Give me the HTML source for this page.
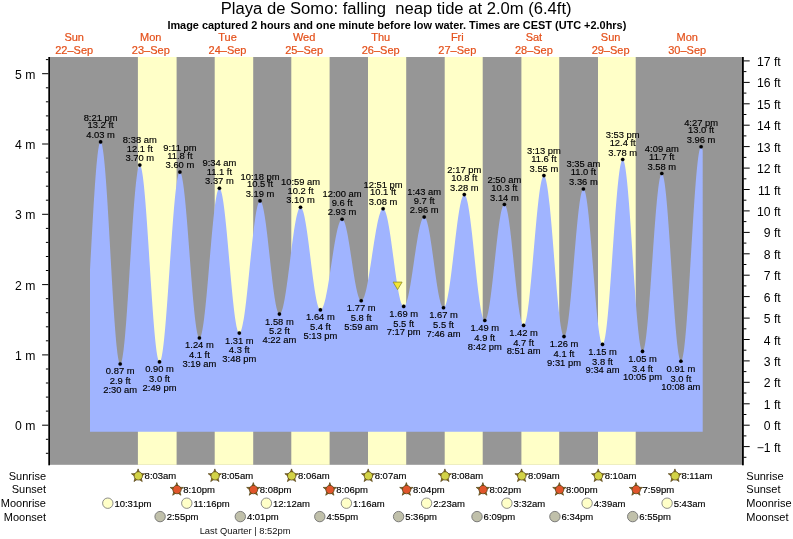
<!DOCTYPE html>
<html><head><meta charset="utf-8"><title>Playa de Somo tide chart</title>
<style>html,body{margin:0;padding:0;background:#fff}</style></head>
<body>
<svg width="793" height="539" viewBox="0 0 793 539" style="display:block;font-family:'Liberation Sans',Arial,sans-serif">
<rect width="793" height="539" fill="#fff"/>
<rect x="50" y="57" width="692" height="407.8" fill="#969696"/>
<rect x="137.9" y="57" width="38.7" height="407.8" fill="#ffffc8"/>
<rect x="214.7" y="57" width="38.5" height="407.8" fill="#ffffc8"/>
<rect x="291.3" y="57" width="38.3" height="407.8" fill="#ffffc8"/>
<rect x="368.0" y="57" width="38.2" height="407.8" fill="#ffffc8"/>
<rect x="444.7" y="57" width="38.0" height="407.8" fill="#ffffc8"/>
<rect x="521.4" y="57" width="37.8" height="407.8" fill="#ffffc8"/>
<rect x="598.0" y="57" width="37.7" height="407.8" fill="#ffffc8"/>
<path d="M90.0,431.7L90.0,269.5L90.5,260.3L91.0,251.2L91.5,242.1L92.0,233.1L92.5,224.2L93.0,215.5L93.5,207.1L94.0,199.1L94.5,191.4L95.0,184.1L95.5,177.2L96.0,170.9L96.5,165.1L97.0,159.9L97.5,155.3L98.0,151.3L98.5,148.0L99.0,145.4L99.5,143.5L100.0,142.4L100.5,141.9L101.0,142.2L101.5,143.1L102.0,144.8L102.5,147.2L103.0,150.2L103.5,153.9L104.0,158.3L104.5,163.2L105.0,168.7L105.5,174.8L106.0,181.3L106.5,188.3L107.0,195.8L107.5,203.6L108.0,211.7L108.5,220.0L109.0,228.6L109.5,237.4L110.0,246.2L110.5,255.1L111.0,264.0L111.5,272.8L112.0,281.4L112.5,289.9L113.0,298.2L113.5,306.2L114.0,313.8L114.5,321.0L115.0,327.8L115.5,334.1L116.0,339.9L116.5,345.2L117.0,349.8L117.5,353.9L118.0,357.3L118.5,360.0L119.0,362.0L119.5,363.4L120.0,364.0L120.5,363.9L121.0,363.2L121.5,361.9L122.0,359.9L122.5,357.3L123.0,354.1L123.5,350.4L124.0,346.1L124.5,341.2L125.0,335.9L125.5,330.1L126.0,323.9L126.5,317.3L127.0,310.4L127.5,303.1L128.0,295.7L128.5,288.0L129.0,280.2L129.5,272.2L130.0,264.3L130.5,256.3L131.0,248.4L131.5,240.6L132.0,232.9L132.5,225.4L133.0,218.2L133.5,211.3L134.0,204.8L134.5,198.6L135.0,192.8L135.5,187.5L136.0,182.7L136.5,178.5L137.0,174.8L137.5,171.6L138.0,169.1L138.5,167.1L139.0,165.8L139.5,165.2L140.0,165.2L140.5,165.8L141.0,167.0L141.5,168.8L142.0,171.2L142.5,174.2L143.0,177.8L143.5,181.9L144.0,186.6L144.5,191.7L145.0,197.3L145.5,203.3L146.0,209.7L146.5,216.4L147.0,223.4L147.5,230.7L148.0,238.2L148.5,245.8L149.0,253.6L149.5,261.4L150.0,269.2L150.5,277.0L151.0,284.7L151.5,292.3L152.0,299.7L152.5,306.8L153.0,313.7L153.5,320.3L154.0,326.5L154.5,332.3L155.0,337.7L155.5,342.6L156.0,347.0L156.5,350.9L157.0,354.2L157.5,357.0L158.0,359.1L158.5,360.7L159.0,361.6L159.5,361.9L160.0,361.7L160.5,360.8L161.0,359.4L161.5,357.4L162.0,354.9L162.5,351.9L163.0,348.4L163.5,344.4L164.0,339.9L164.5,335.0L165.0,329.7L165.5,324.0L166.0,317.9L166.5,311.6L167.0,305.0L167.5,298.2L168.0,291.2L168.5,284.0L169.0,276.7L169.5,269.4L170.0,262.1L170.5,254.8L171.0,247.5L171.5,240.4L172.0,233.5L172.5,226.7L173.0,220.2L173.5,214.0L174.0,208.1L174.5,202.5L175.0,197.3L175.5,192.5L176.0,188.2L176.5,184.4L177.0,181.0L177.5,178.2L178.0,175.9L178.5,174.1L179.0,172.9L179.5,172.2L180.0,172.2L180.5,172.6L181.0,173.6L181.5,175.1L182.0,177.1L182.5,179.7L183.0,182.7L183.5,186.2L184.0,190.1L184.5,194.4L185.0,199.1L185.5,204.2L186.0,209.7L186.5,215.4L187.0,221.3L187.5,227.5L188.0,233.9L188.5,240.4L189.0,247.0L189.5,253.6L190.0,260.3L190.5,266.9L191.0,273.4L191.5,279.8L192.0,286.1L192.5,292.2L193.0,298.0L193.5,303.6L194.0,308.8L194.5,313.7L195.0,318.2L195.5,322.3L196.0,326.0L196.5,329.2L197.0,332.0L197.5,334.2L198.0,335.9L198.5,337.2L199.0,337.9L199.5,338.0L200.0,337.7L200.5,336.9L201.0,335.7L201.5,334.0L202.0,331.8L202.5,329.3L203.0,326.3L203.5,322.9L204.0,319.2L204.5,315.1L205.0,310.7L205.5,306.0L206.0,301.1L206.5,295.9L207.0,290.5L207.5,284.9L208.0,279.2L208.5,273.4L209.0,267.5L209.5,261.6L210.0,255.8L210.5,249.9L211.0,244.2L211.5,238.5L212.0,233.0L212.5,227.7L213.0,222.7L213.5,217.8L214.0,213.3L214.5,209.0L215.0,205.1L215.5,201.6L216.0,198.4L216.5,195.7L217.0,193.3L217.5,191.4L218.0,190.0L218.5,189.0L219.0,188.4L219.5,188.3L220.0,188.7L220.5,189.5L221.0,190.7L221.5,192.4L222.0,194.6L222.5,197.1L223.0,200.0L223.5,203.3L224.0,207.0L224.5,211.0L225.0,215.3L225.5,219.9L226.0,224.7L226.5,229.8L227.0,235.1L227.5,240.5L228.0,246.0L228.5,251.7L229.0,257.4L229.5,263.1L230.0,268.8L230.5,274.4L231.0,280.0L231.5,285.4L232.0,290.7L232.5,295.8L233.0,300.7L233.5,305.3L234.0,309.7L234.5,313.8L235.0,317.5L235.5,320.8L236.0,323.8L236.5,326.4L237.0,328.6L237.5,330.4L238.0,331.7L238.5,332.6L239.0,333.1L239.5,333.1L240.0,332.7L240.5,331.9L241.0,330.8L241.5,329.3L242.0,327.4L242.5,325.2L243.0,322.7L243.6,319.8L244.1,316.7L244.6,313.2L245.1,309.5L245.6,305.6L246.1,301.4L246.6,297.0L247.1,292.5L247.6,287.8L248.1,283.0L248.6,278.1L249.1,273.1L249.6,268.1L250.1,263.1L250.6,258.2L251.1,253.2L251.6,248.4L252.1,243.6L252.6,239.0L253.1,234.6L253.6,230.3L254.1,226.3L254.6,222.5L255.1,218.9L255.6,215.6L256.1,212.6L256.6,209.9L257.1,207.6L257.6,205.6L258.1,203.9L258.6,202.6L259.1,201.7L259.6,201.1L260.1,200.9L260.6,201.1L261.1,201.7L261.6,202.6L262.1,203.9L262.6,205.6L263.1,207.6L263.6,209.9L264.1,212.5L264.6,215.5L265.1,218.7L265.6,222.1L266.1,225.8L266.6,229.7L267.1,233.8L267.6,238.1L268.1,242.4L268.6,246.9L269.1,251.4L269.6,256.0L270.1,260.6L270.6,265.2L271.1,269.7L271.6,274.1L272.1,278.5L272.6,282.7L273.1,286.7L273.6,290.5L274.1,294.1L274.6,297.5L275.1,300.6L275.6,303.5L276.1,306.0L276.6,308.2L277.1,310.1L277.6,311.6L278.1,312.8L278.6,313.6L279.1,314.0L279.6,314.1L280.1,313.9L280.6,313.3L281.1,312.5L281.6,311.4L282.1,310.0L282.6,308.4L283.1,306.4L283.6,304.2L284.1,301.8L284.6,299.2L285.1,296.3L285.6,293.3L286.1,290.0L286.6,286.6L287.1,283.1L287.6,279.4L288.1,275.6L288.6,271.8L289.1,267.9L289.6,263.9L290.1,259.9L290.6,256.0L291.1,252.0L291.6,248.1L292.1,244.3L292.6,240.6L293.1,237.0L293.6,233.5L294.1,230.1L294.6,227.0L295.1,224.0L295.6,221.2L296.1,218.6L296.6,216.3L297.1,214.2L297.6,212.4L298.1,210.8L298.6,209.5L299.1,208.5L299.6,207.8L300.1,207.4L300.6,207.3L301.1,207.5L301.6,208.0L302.1,208.8L302.6,209.9L303.1,211.3L303.6,213.1L304.1,215.1L304.6,217.3L305.1,219.9L305.6,222.7L306.1,225.7L306.6,228.9L307.1,232.3L307.6,235.8L308.1,239.5L308.6,243.3L309.1,247.2L309.6,251.2L310.1,255.3L310.6,259.3L311.1,263.4L311.6,267.4L312.1,271.3L312.6,275.2L313.1,279.0L313.6,282.6L314.1,286.1L314.6,289.5L315.1,292.6L315.6,295.5L316.1,298.2L316.6,300.7L317.1,302.9L317.6,304.8L318.1,306.4L318.6,307.7L319.1,308.7L319.6,309.4L320.1,309.8L320.6,309.9L321.1,309.7L321.6,309.3L322.1,308.6L322.6,307.7L323.1,306.6L323.6,305.3L324.1,303.7L324.6,302.0L325.1,300.0L325.6,297.9L326.1,295.5L326.6,293.1L327.1,290.4L327.6,287.7L328.1,284.8L328.6,281.8L329.1,278.7L329.6,275.5L330.1,272.3L330.6,269.0L331.1,265.8L331.6,262.5L332.1,259.2L332.6,255.9L333.1,252.7L333.6,249.6L334.1,246.5L334.6,243.6L335.1,240.7L335.6,238.0L336.1,235.4L336.6,232.9L337.1,230.7L337.6,228.6L338.1,226.7L338.6,225.0L339.1,223.5L339.6,222.2L340.1,221.1L340.6,220.3L341.1,219.7L341.6,219.3L342.1,219.2L342.6,219.4L343.1,219.8L343.6,220.4L344.1,221.4L344.6,222.6L345.1,224.1L345.6,225.8L346.1,227.7L346.6,229.9L347.1,232.2L347.6,234.8L348.1,237.5L348.6,240.4L349.1,243.4L349.6,246.5L350.1,249.7L350.6,253.0L351.1,256.3L351.6,259.6L352.1,263.0L352.6,266.3L353.1,269.6L353.6,272.8L354.1,276.0L354.6,279.0L355.1,281.9L355.6,284.6L356.1,287.2L356.6,289.6L357.1,291.8L357.6,293.8L358.1,295.6L358.6,297.1L359.1,298.4L359.6,299.4L360.1,300.1L360.6,300.6L361.1,300.8L361.6,300.7L362.1,300.4L362.6,299.8L363.1,299.1L363.6,298.1L364.1,296.9L364.6,295.4L365.1,293.8L365.6,291.9L366.1,289.9L366.6,287.7L367.1,285.3L367.6,282.7L368.1,280.0L368.6,277.2L369.1,274.3L369.6,271.3L370.1,268.1L370.6,264.9L371.1,261.7L371.6,258.4L372.1,255.1L372.6,251.8L373.1,248.5L373.6,245.3L374.1,242.1L374.6,239.0L375.1,235.9L375.6,232.9L376.1,230.1L376.6,227.4L377.1,224.8L377.6,222.3L378.1,220.1L378.6,218.0L379.1,216.1L379.6,214.4L380.1,212.9L380.6,211.6L381.1,210.6L381.6,209.8L382.1,209.2L382.6,208.8L383.1,208.7L383.6,208.8L384.1,209.2L384.6,209.9L385.1,210.9L385.6,212.2L386.1,213.7L386.6,215.4L387.1,217.5L387.6,219.7L388.1,222.2L388.6,224.9L389.1,227.7L389.6,230.8L390.1,234.0L390.6,237.3L391.1,240.8L391.6,244.4L392.1,248.0L392.6,251.7L393.1,255.4L393.6,259.1L394.1,262.9L394.6,266.6L395.1,270.2L395.6,273.8L396.1,277.3L396.6,280.6L397.1,283.8L397.6,286.9L398.1,289.8L398.6,292.5L399.1,295.0L399.6,297.3L400.1,299.4L400.6,301.2L401.1,302.7L401.6,304.0L402.1,305.0L402.6,305.8L403.1,306.2L403.6,306.4L404.1,306.3L404.6,305.9L405.1,305.3L405.6,304.4L406.1,303.3L406.6,301.9L407.1,300.3L407.6,298.5L408.1,296.4L408.6,294.2L409.1,291.8L409.6,289.1L410.1,286.4L410.6,283.5L411.1,280.4L411.6,277.3L412.1,274.0L412.6,270.7L413.1,267.3L413.6,263.9L414.1,260.5L414.6,257.1L415.1,253.7L415.6,250.4L416.1,247.1L416.6,243.9L417.1,240.9L417.6,237.9L418.1,235.1L418.6,232.4L419.1,229.9L419.6,227.6L420.1,225.5L420.6,223.7L421.1,222.0L421.6,220.6L422.1,219.4L422.6,218.4L423.1,217.7L423.6,217.3L424.1,217.1L424.6,217.2L425.1,217.6L425.6,218.3L426.1,219.3L426.6,220.6L427.1,222.1L427.6,223.9L428.1,226.0L428.6,228.3L429.1,230.9L429.6,233.6L430.1,236.5L430.6,239.7L431.1,242.9L431.6,246.3L432.1,249.8L432.6,253.4L433.1,257.0L433.6,260.7L434.1,264.4L434.6,268.1L435.1,271.7L435.6,275.3L436.1,278.8L436.6,282.2L437.1,285.4L437.6,288.5L438.1,291.4L438.6,294.2L439.1,296.7L439.6,299.0L440.1,301.1L440.6,302.9L441.1,304.4L441.6,305.7L442.1,306.6L442.6,307.3L443.1,307.7L443.6,307.8L444.1,307.6L444.6,307.0L445.1,306.1L445.6,305.0L446.1,303.5L446.6,301.7L447.1,299.6L447.6,297.3L448.1,294.6L448.6,291.8L449.1,288.7L449.6,285.4L450.1,281.9L450.6,278.2L451.1,274.4L451.6,270.4L452.1,266.3L452.6,262.2L453.1,258.0L453.6,253.7L454.1,249.4L454.6,245.2L455.1,240.9L455.6,236.8L456.1,232.7L456.6,228.7L457.1,224.8L457.6,221.1L458.1,217.6L458.6,214.3L459.1,211.1L459.6,208.2L460.1,205.6L460.6,203.2L461.1,201.1L461.6,199.2L462.1,197.7L462.6,196.5L463.1,195.5L463.6,194.9L464.1,194.6L464.6,194.7L465.1,195.1L465.6,195.9L466.1,197.0L466.6,198.5L467.1,200.4L467.6,202.6L468.1,205.1L468.6,207.9L469.1,211.0L469.6,214.4L470.1,218.0L470.6,221.9L471.1,225.9L471.6,230.2L472.1,234.6L472.6,239.2L473.1,243.8L473.6,248.6L474.1,253.4L474.6,258.2L475.1,263.0L475.6,267.8L476.1,272.5L476.6,277.2L477.1,281.7L477.6,286.1L478.1,290.3L478.6,294.3L479.1,298.1L479.6,301.7L480.1,305.0L480.6,308.0L481.1,310.7L481.6,313.2L482.1,315.2L482.6,317.0L483.1,318.4L483.6,319.4L484.1,320.1L484.6,320.4L485.1,320.4L485.6,319.9L486.1,319.1L486.6,318.0L487.1,316.4L487.6,314.6L488.1,312.4L488.6,309.8L489.1,307.0L489.6,303.9L490.1,300.5L490.6,296.9L491.1,293.0L491.6,289.0L492.1,284.7L492.6,280.4L493.1,275.9L493.6,271.3L494.1,266.7L494.6,262.1L495.1,257.4L495.6,252.8L496.1,248.2L496.6,243.8L497.1,239.4L497.6,235.2L498.1,231.2L498.6,227.4L499.1,223.8L499.6,220.5L500.1,217.4L500.6,214.6L501.1,212.1L501.6,210.0L502.1,208.2L502.6,206.7L503.1,205.6L503.6,204.9L504.1,204.5L504.6,204.5L505.1,204.9L505.6,205.7L506.1,206.9L506.6,208.5L507.1,210.5L507.6,212.8L508.1,215.5L508.6,218.5L509.1,221.8L509.6,225.5L510.1,229.3L510.6,233.4L511.1,237.8L511.6,242.3L512.1,246.9L512.6,251.7L513.1,256.6L513.6,261.5L514.1,266.4L514.6,271.4L515.1,276.3L515.6,281.1L516.1,285.8L516.6,290.3L517.1,294.7L517.6,298.9L518.1,302.9L518.6,306.6L519.1,310.1L519.6,313.2L520.1,316.0L520.6,318.5L521.1,320.6L521.6,322.3L522.1,323.7L522.6,324.6L523.1,325.2L523.6,325.4L524.1,325.1L524.6,324.4L525.1,323.2L525.6,321.6L526.1,319.6L526.6,317.2L527.1,314.4L527.6,311.2L528.1,307.6L528.6,303.7L529.1,299.4L529.6,294.9L530.1,290.1L530.6,285.1L531.1,279.9L531.6,274.5L532.1,268.9L532.6,263.3L533.1,257.5L533.6,251.7L534.1,246.0L534.6,240.2L535.1,234.5L535.6,228.9L536.1,223.4L536.6,218.1L537.1,213.0L537.6,208.1L538.1,203.5L538.6,199.1L539.1,195.1L539.6,191.3L540.1,188.0L540.6,185.0L541.1,182.4L541.6,180.2L542.1,178.4L542.6,177.1L543.1,176.2L543.6,175.7L544.1,175.7L544.6,176.2L545.1,177.1L545.6,178.6L546.1,180.5L546.6,182.9L547.1,185.7L547.6,188.9L548.1,192.6L548.6,196.7L549.1,201.1L549.7,205.8L550.2,210.9L550.7,216.2L551.2,221.8L551.7,227.6L552.2,233.5L552.7,239.6L553.2,245.8L553.7,252.1L554.2,258.4L554.7,264.7L555.2,270.9L555.7,277.0L556.2,283.0L556.7,288.9L557.2,294.5L557.7,299.9L558.2,305.0L558.7,309.9L559.2,314.4L559.7,318.5L560.2,322.3L560.7,325.7L561.2,328.6L561.7,331.1L562.2,333.2L562.7,334.8L563.2,335.9L563.7,336.5L564.2,336.6L564.7,336.2L565.2,335.4L565.7,334.1L566.2,332.3L566.7,330.0L567.2,327.3L567.7,324.2L568.2,320.7L568.7,316.8L569.2,312.5L569.7,307.9L570.2,303.1L570.7,297.9L571.2,292.5L571.7,287.0L572.2,281.2L572.7,275.4L573.2,269.4L573.7,263.5L574.2,257.5L574.7,251.5L575.2,245.7L575.7,239.9L576.2,234.3L576.7,228.9L577.2,223.7L577.7,218.7L578.2,214.1L578.7,209.7L579.2,205.8L579.7,202.1L580.2,198.9L580.7,196.1L581.2,193.8L581.7,191.9L582.2,190.5L582.7,189.5L583.2,189.0L583.7,189.1L584.2,189.6L584.7,190.7L585.2,192.2L585.7,194.3L586.2,196.9L586.7,199.9L587.2,203.4L587.7,207.3L588.2,211.7L588.7,216.3L589.2,221.4L589.7,226.7L590.2,232.3L590.7,238.2L591.2,244.2L591.7,250.4L592.2,256.7L592.7,263.0L593.2,269.4L593.7,275.8L594.2,282.1L594.7,288.3L595.2,294.4L595.7,300.2L596.2,305.9L596.7,311.3L597.2,316.3L597.7,321.1L598.2,325.4L598.7,329.4L599.2,333.0L599.7,336.1L600.2,338.7L600.7,340.9L601.2,342.5L601.7,343.6L602.2,344.2L602.7,344.3L603.2,343.9L603.7,342.8L604.2,341.2L604.7,339.1L605.2,336.5L605.7,333.3L606.2,329.7L606.7,325.5L607.2,321.0L607.7,316.0L608.2,310.6L608.7,304.8L609.2,298.8L609.7,292.4L610.2,285.8L610.7,279.0L611.2,272.1L611.7,265.0L612.2,257.8L612.7,250.6L613.2,243.5L613.7,236.3L614.2,229.3L614.7,222.4L615.2,215.6L615.7,209.1L616.2,202.9L616.7,196.9L617.2,191.3L617.7,186.1L618.2,181.2L618.7,176.8L619.2,172.8L619.7,169.3L620.2,166.3L620.7,163.9L621.2,162.0L621.7,160.6L622.2,159.7L622.7,159.5L623.2,159.8L623.7,160.7L624.2,162.2L624.7,164.3L625.2,167.0L625.7,170.2L626.2,174.0L626.7,178.2L627.2,183.0L627.7,188.2L628.2,193.9L628.7,199.9L629.2,206.3L629.7,213.0L630.2,219.9L630.7,227.1L631.2,234.5L631.7,242.0L632.2,249.6L632.7,257.2L633.2,264.8L633.7,272.3L634.2,279.7L634.7,287.0L635.2,294.1L635.7,301.0L636.2,307.5L636.7,313.7L637.2,319.6L637.7,325.1L638.2,330.1L638.7,334.6L639.2,338.7L639.7,342.2L640.2,345.2L640.7,347.6L641.2,349.4L641.7,350.7L642.2,351.3L642.7,351.3L643.2,350.8L643.7,349.6L644.2,347.9L644.7,345.7L645.2,342.9L645.7,339.5L646.2,335.7L646.7,331.3L647.2,326.6L647.7,321.3L648.2,315.8L648.7,309.8L649.2,303.6L649.7,297.0L650.2,290.3L650.7,283.3L651.2,276.3L651.7,269.1L652.2,261.9L652.7,254.7L653.2,247.5L653.7,240.5L654.2,233.6L654.7,226.8L655.2,220.4L655.7,214.1L656.2,208.3L656.7,202.7L657.2,197.6L657.7,192.9L658.2,188.6L658.7,184.8L659.2,181.6L659.7,178.8L660.2,176.7L660.7,175.0L661.2,174.0L661.7,173.5L662.2,173.7L662.7,174.5L663.2,175.9L663.7,177.9L664.2,180.5L664.7,183.7L665.2,187.5L665.7,191.8L666.2,196.6L666.7,201.9L667.2,207.7L667.7,213.8L668.2,220.4L668.7,227.2L669.2,234.3L669.7,241.6L670.2,249.1L670.7,256.7L671.2,264.4L671.7,272.2L672.2,279.8L672.7,287.4L673.2,294.9L673.7,302.2L674.2,309.2L674.7,316.0L675.2,322.4L675.7,328.5L676.2,334.1L676.7,339.3L677.2,344.0L677.7,348.2L678.2,351.9L678.7,354.9L679.2,357.4L679.7,359.3L680.2,360.5L680.7,361.2L681.2,361.1L681.7,360.5L682.2,359.2L682.7,357.2L683.2,354.6L683.7,351.4L684.2,347.7L684.7,343.3L685.2,338.4L685.7,333.0L686.2,327.2L686.7,320.8L687.2,314.1L687.7,307.0L688.2,299.6L688.7,291.9L689.2,284.0L689.7,275.9L690.2,267.6L690.7,259.3L691.2,251.0L691.7,242.6L692.2,234.4L692.7,226.2L693.2,218.3L693.7,210.5L694.2,203.0L694.7,195.8L695.2,189.0L695.7,182.6L696.2,176.6L696.7,171.0L697.2,166.0L697.7,161.5L698.2,157.6L698.7,154.2L699.2,151.5L699.7,149.3L700.2,147.9L700.7,147.0L701.2,146.8L701.7,147.3L702.2,148.5L702.7,150.3L702.7,431.7Z" fill="#a0b4ff"/>
<rect x="48.3" y="57" width="1.7" height="408.3" fill="#000"/>
<rect x="742" y="57" width="1.8" height="408.3" fill="#000"/>
<g stroke="#000" stroke-width="1"><line x1="45.9" x2="48.4" y1="453.3" y2="453.3"/><line x1="45.9" x2="48.4" y1="439.3" y2="439.3"/><line x1="42.1" x2="48.4" y1="425.2" y2="425.2"/><line x1="45.9" x2="48.4" y1="411.1" y2="411.1"/><line x1="45.9" x2="48.4" y1="397.1" y2="397.1"/><line x1="45.9" x2="48.4" y1="383.0" y2="383.0"/><line x1="45.9" x2="48.4" y1="369.0" y2="369.0"/><line x1="42.1" x2="48.4" y1="354.9" y2="354.9"/><line x1="45.9" x2="48.4" y1="340.8" y2="340.8"/><line x1="45.9" x2="48.4" y1="326.8" y2="326.8"/><line x1="45.9" x2="48.4" y1="312.7" y2="312.7"/><line x1="45.9" x2="48.4" y1="298.7" y2="298.7"/><line x1="42.1" x2="48.4" y1="284.6" y2="284.6"/><line x1="45.9" x2="48.4" y1="270.5" y2="270.5"/><line x1="45.9" x2="48.4" y1="256.5" y2="256.5"/><line x1="45.9" x2="48.4" y1="242.4" y2="242.4"/><line x1="45.9" x2="48.4" y1="228.4" y2="228.4"/><line x1="42.1" x2="48.4" y1="214.3" y2="214.3"/><line x1="45.9" x2="48.4" y1="200.2" y2="200.2"/><line x1="45.9" x2="48.4" y1="186.2" y2="186.2"/><line x1="45.9" x2="48.4" y1="172.1" y2="172.1"/><line x1="45.9" x2="48.4" y1="158.1" y2="158.1"/><line x1="42.1" x2="48.4" y1="144.0" y2="144.0"/><line x1="45.9" x2="48.4" y1="129.9" y2="129.9"/><line x1="45.9" x2="48.4" y1="115.9" y2="115.9"/><line x1="45.9" x2="48.4" y1="101.8" y2="101.8"/><line x1="45.9" x2="48.4" y1="87.8" y2="87.8"/><line x1="42.1" x2="48.4" y1="73.7" y2="73.7"/><line x1="45.9" x2="48.4" y1="59.6" y2="59.6"/></g>
<text x="35.4" y="430.1" font-size="12.2" text-anchor="end">0 m</text>
<text x="35.4" y="359.8" font-size="12.2" text-anchor="end">1 m</text>
<text x="35.4" y="289.5" font-size="12.2" text-anchor="end">2 m</text>
<text x="35.4" y="219.2" font-size="12.2" text-anchor="end">3 m</text>
<text x="35.4" y="148.9" font-size="12.2" text-anchor="end">4 m</text>
<text x="35.4" y="78.6" font-size="12.2" text-anchor="end">5 m</text>
<g stroke="#000" stroke-width="1"><line x1="743.5" x2="746.4" y1="457.3" y2="457.3"/><line x1="743.5" x2="749.7" y1="446.6" y2="446.6"/><line x1="743.5" x2="746.4" y1="435.9" y2="435.9"/><line x1="743.5" x2="749.7" y1="425.2" y2="425.2"/><line x1="743.5" x2="746.4" y1="414.5" y2="414.5"/><line x1="743.5" x2="749.7" y1="403.8" y2="403.8"/><line x1="743.5" x2="746.4" y1="393.1" y2="393.1"/><line x1="743.5" x2="749.7" y1="382.3" y2="382.3"/><line x1="743.5" x2="746.4" y1="371.6" y2="371.6"/><line x1="743.5" x2="749.7" y1="360.9" y2="360.9"/><line x1="743.5" x2="746.4" y1="350.2" y2="350.2"/><line x1="743.5" x2="749.7" y1="339.5" y2="339.5"/><line x1="743.5" x2="746.4" y1="328.8" y2="328.8"/><line x1="743.5" x2="749.7" y1="318.1" y2="318.1"/><line x1="743.5" x2="746.4" y1="307.3" y2="307.3"/><line x1="743.5" x2="749.7" y1="296.6" y2="296.6"/><line x1="743.5" x2="746.4" y1="285.9" y2="285.9"/><line x1="743.5" x2="749.7" y1="275.2" y2="275.2"/><line x1="743.5" x2="746.4" y1="264.5" y2="264.5"/><line x1="743.5" x2="749.7" y1="253.8" y2="253.8"/><line x1="743.5" x2="746.4" y1="243.1" y2="243.1"/><line x1="743.5" x2="749.7" y1="232.4" y2="232.4"/><line x1="743.5" x2="746.4" y1="221.6" y2="221.6"/><line x1="743.5" x2="749.7" y1="210.9" y2="210.9"/><line x1="743.5" x2="746.4" y1="200.2" y2="200.2"/><line x1="743.5" x2="749.7" y1="189.5" y2="189.5"/><line x1="743.5" x2="746.4" y1="178.8" y2="178.8"/><line x1="743.5" x2="749.7" y1="168.1" y2="168.1"/><line x1="743.5" x2="746.4" y1="157.4" y2="157.4"/><line x1="743.5" x2="749.7" y1="146.6" y2="146.6"/><line x1="743.5" x2="746.4" y1="135.9" y2="135.9"/><line x1="743.5" x2="749.7" y1="125.2" y2="125.2"/><line x1="743.5" x2="746.4" y1="114.5" y2="114.5"/><line x1="743.5" x2="749.7" y1="103.8" y2="103.8"/><line x1="743.5" x2="746.4" y1="93.1" y2="93.1"/><line x1="743.5" x2="749.7" y1="82.4" y2="82.4"/><line x1="743.5" x2="746.4" y1="71.6" y2="71.6"/><line x1="743.5" x2="749.7" y1="60.9" y2="60.9"/></g>
<text x="780.7" y="451.6" font-size="12.2" text-anchor="end">−1 ft</text>
<text x="780.7" y="430.2" font-size="12.2" text-anchor="end">0 ft</text>
<text x="780.7" y="408.8" font-size="12.2" text-anchor="end">1 ft</text>
<text x="780.7" y="387.3" font-size="12.2" text-anchor="end">2 ft</text>
<text x="780.7" y="365.9" font-size="12.2" text-anchor="end">3 ft</text>
<text x="780.7" y="344.5" font-size="12.2" text-anchor="end">4 ft</text>
<text x="780.7" y="323.1" font-size="12.2" text-anchor="end">5 ft</text>
<text x="780.7" y="301.6" font-size="12.2" text-anchor="end">6 ft</text>
<text x="780.7" y="280.2" font-size="12.2" text-anchor="end">7 ft</text>
<text x="780.7" y="258.8" font-size="12.2" text-anchor="end">8 ft</text>
<text x="780.7" y="237.4" font-size="12.2" text-anchor="end">9 ft</text>
<text x="780.7" y="215.9" font-size="12.2" text-anchor="end">10 ft</text>
<text x="780.7" y="194.5" font-size="12.2" text-anchor="end">11 ft</text>
<text x="780.7" y="173.1" font-size="12.2" text-anchor="end">12 ft</text>
<text x="780.7" y="151.6" font-size="12.2" text-anchor="end">13 ft</text>
<text x="780.7" y="130.2" font-size="12.2" text-anchor="end">14 ft</text>
<text x="780.7" y="108.8" font-size="12.2" text-anchor="end">15 ft</text>
<text x="780.7" y="87.4" font-size="12.2" text-anchor="end">16 ft</text>
<text x="780.7" y="65.9" font-size="12.2" text-anchor="end">17 ft</text>
<text x="396.2" y="14.2" font-size="16.63" text-anchor="middle" xml:space="preserve">Playa de Somo: falling  neap tide at 2.0m (6.4ft)</text>
<text x="396.85" y="28.9" font-size="10.93" font-weight="bold" text-anchor="middle">Image captured 2 hours and one minute before low water. Times are CEST (UTC +2.0hrs)</text>
<text x="74.2" y="41.3" font-size="11" fill="#e4501a" stroke="#e4501a" stroke-width="0.2" text-anchor="middle">Sun</text>
<text x="74.2" y="53.7" font-size="11" fill="#e4501a" stroke="#e4501a" stroke-width="0.2" text-anchor="middle">22–Sep</text>
<text x="150.8" y="41.3" font-size="11" fill="#e4501a" stroke="#e4501a" stroke-width="0.2" text-anchor="middle">Mon</text>
<text x="150.8" y="53.7" font-size="11" fill="#e4501a" stroke="#e4501a" stroke-width="0.2" text-anchor="middle">23–Sep</text>
<text x="227.5" y="41.3" font-size="11" fill="#e4501a" stroke="#e4501a" stroke-width="0.2" text-anchor="middle">Tue</text>
<text x="227.5" y="53.7" font-size="11" fill="#e4501a" stroke="#e4501a" stroke-width="0.2" text-anchor="middle">24–Sep</text>
<text x="304.1" y="41.3" font-size="11" fill="#e4501a" stroke="#e4501a" stroke-width="0.2" text-anchor="middle">Wed</text>
<text x="304.1" y="53.7" font-size="11" fill="#e4501a" stroke="#e4501a" stroke-width="0.2" text-anchor="middle">25–Sep</text>
<text x="380.7" y="41.3" font-size="11" fill="#e4501a" stroke="#e4501a" stroke-width="0.2" text-anchor="middle">Thu</text>
<text x="380.7" y="53.7" font-size="11" fill="#e4501a" stroke="#e4501a" stroke-width="0.2" text-anchor="middle">26–Sep</text>
<text x="457.3" y="41.3" font-size="11" fill="#e4501a" stroke="#e4501a" stroke-width="0.2" text-anchor="middle">Fri</text>
<text x="457.3" y="53.7" font-size="11" fill="#e4501a" stroke="#e4501a" stroke-width="0.2" text-anchor="middle">27–Sep</text>
<text x="533.9" y="41.3" font-size="11" fill="#e4501a" stroke="#e4501a" stroke-width="0.2" text-anchor="middle">Sat</text>
<text x="533.9" y="53.7" font-size="11" fill="#e4501a" stroke="#e4501a" stroke-width="0.2" text-anchor="middle">28–Sep</text>
<text x="610.6" y="41.3" font-size="11" fill="#e4501a" stroke="#e4501a" stroke-width="0.2" text-anchor="middle">Sun</text>
<text x="610.6" y="53.7" font-size="11" fill="#e4501a" stroke="#e4501a" stroke-width="0.2" text-anchor="middle">29–Sep</text>
<text x="687.2" y="41.3" font-size="11" fill="#e4501a" stroke="#e4501a" stroke-width="0.2" text-anchor="middle">Mon</text>
<text x="687.2" y="53.7" font-size="11" fill="#e4501a" stroke="#e4501a" stroke-width="0.2" text-anchor="middle">30–Sep</text>
<g font-size="9.4" text-anchor="middle" fill="#000" stroke="#000" stroke-width="0.15"><circle cx="100.6" cy="141.9" r="1.8" fill="#000"/><text x="100.6" y="120.7">8:21 pm</text><text x="100.6" y="128.3">13.2 ft</text><text x="100.6" y="138.0">4.03 m</text><circle cx="120.2" cy="364.0" r="1.8" fill="#000"/><text x="120.2" y="374.4">0.87 m</text><text x="120.2" y="384.3">2.9 ft</text><text x="120.2" y="393.0">2:30 am</text><circle cx="139.8" cy="165.1" r="1.8" fill="#000"/><text x="139.8" y="143.1">8:38 am</text><text x="139.8" y="151.5">12.1 ft</text><text x="139.8" y="161.2">3.70 m</text><circle cx="159.5" cy="361.9" r="1.8" fill="#000"/><text x="159.5" y="372.3">0.90 m</text><text x="159.5" y="382.2">3.0 ft</text><text x="159.5" y="390.9">2:49 pm</text><circle cx="179.9" cy="172.1" r="1.8" fill="#000"/><text x="179.9" y="150.9">9:11 pm</text><text x="179.9" y="158.5">11.8 ft</text><text x="179.9" y="168.2">3.60 m</text><circle cx="199.4" cy="338.0" r="1.8" fill="#000"/><text x="199.4" y="348.4">1.24 m</text><text x="199.4" y="358.3">4.1 ft</text><text x="199.4" y="367.0">3:19 am</text><circle cx="219.4" cy="188.3" r="1.8" fill="#000"/><text x="219.4" y="166.3">9:34 am</text><text x="219.4" y="174.7">11.1 ft</text><text x="219.4" y="184.4">3.37 m</text><circle cx="239.3" cy="333.1" r="1.8" fill="#000"/><text x="239.3" y="343.5">1.31 m</text><text x="239.3" y="353.4">4.3 ft</text><text x="239.3" y="362.1">3:48 pm</text><circle cx="260.0" cy="200.9" r="1.8" fill="#000"/><text x="260.0" y="179.7">10:18 pm</text><text x="260.0" y="187.3">10.5 ft</text><text x="260.0" y="197.0">3.19 m</text><circle cx="279.4" cy="314.1" r="1.8" fill="#000"/><text x="279.4" y="324.5">1.58 m</text><text x="279.4" y="334.4">5.2 ft</text><text x="279.4" y="343.1">4:22 am</text><circle cx="300.5" cy="207.3" r="1.8" fill="#000"/><text x="300.5" y="185.3">10:59 am</text><text x="300.5" y="193.7">10.2 ft</text><text x="300.5" y="203.4">3.10 m</text><circle cx="320.4" cy="309.9" r="1.8" fill="#000"/><text x="320.4" y="320.3">1.64 m</text><text x="320.4" y="330.2">5.4 ft</text><text x="320.4" y="338.9">5:13 pm</text><circle cx="342.1" cy="219.2" r="1.8" fill="#000"/><text x="342.1" y="197.2">12:00 am</text><text x="342.1" y="205.6">9.6 ft</text><text x="342.1" y="215.3">2.93 m</text><circle cx="361.2" cy="300.8" r="1.8" fill="#000"/><text x="361.2" y="311.2">1.77 m</text><text x="361.2" y="321.1">5.8 ft</text><text x="361.2" y="329.8">5:59 am</text><circle cx="383.1" cy="208.7" r="1.8" fill="#000"/><text x="383.1" y="187.5">12:51 pm</text><text x="383.1" y="195.1">10.1 ft</text><text x="383.1" y="204.8">3.08 m</text><circle cx="403.7" cy="306.4" r="1.8" fill="#000"/><text x="403.7" y="316.8">1.69 m</text><text x="403.7" y="326.7">5.5 ft</text><text x="403.7" y="335.4">7:17 pm</text><circle cx="424.2" cy="217.1" r="1.8" fill="#000"/><text x="424.2" y="195.1">1:43 am</text><text x="424.2" y="203.5">9.7 ft</text><text x="424.2" y="213.2">2.96 m</text><circle cx="443.5" cy="307.8" r="1.8" fill="#000"/><text x="443.5" y="318.2">1.67 m</text><text x="443.5" y="328.1">5.5 ft</text><text x="443.5" y="336.8">7:46 am</text><circle cx="464.3" cy="194.6" r="1.8" fill="#000"/><text x="464.3" y="173.4">2:17 pm</text><text x="464.3" y="181.0">10.8 ft</text><text x="464.3" y="190.7">3.28 m</text><circle cx="484.8" cy="320.5" r="1.8" fill="#000"/><text x="484.8" y="330.9">1.49 m</text><text x="484.8" y="340.8">4.9 ft</text><text x="484.8" y="349.5">8:42 pm</text><circle cx="504.4" cy="204.5" r="1.8" fill="#000"/><text x="504.4" y="182.5">2:50 am</text><text x="504.4" y="190.9">10.3 ft</text><text x="504.4" y="200.6">3.14 m</text><circle cx="523.6" cy="325.4" r="1.8" fill="#000"/><text x="523.6" y="335.8">1.42 m</text><text x="523.6" y="345.7">4.7 ft</text><text x="523.6" y="354.4">8:51 am</text><circle cx="543.9" cy="175.6" r="1.8" fill="#000"/><text x="543.9" y="154.4">3:13 pm</text><text x="543.9" y="162.0">11.6 ft</text><text x="543.9" y="171.7">3.55 m</text><circle cx="564.0" cy="336.6" r="1.8" fill="#000"/><text x="564.0" y="347.0">1.26 m</text><text x="564.0" y="356.9">4.1 ft</text><text x="564.0" y="365.6">9:31 pm</text><circle cx="583.4" cy="189.0" r="1.8" fill="#000"/><text x="583.4" y="167.0">3:35 am</text><text x="583.4" y="175.4">11.0 ft</text><text x="583.4" y="185.1">3.36 m</text><circle cx="602.5" cy="344.4" r="1.8" fill="#000"/><text x="602.5" y="354.8">1.15 m</text><text x="602.5" y="364.7">3.8 ft</text><text x="602.5" y="373.4">9:34 am</text><circle cx="622.7" cy="159.5" r="1.8" fill="#000"/><text x="622.7" y="138.3">3:53 pm</text><text x="622.7" y="145.9">12.4 ft</text><text x="622.7" y="155.6">3.78 m</text><circle cx="642.5" cy="351.4" r="1.8" fill="#000"/><text x="642.5" y="361.8">1.05 m</text><text x="642.5" y="371.7">3.4 ft</text><text x="642.5" y="380.4">10:05 pm</text><circle cx="661.8" cy="173.5" r="1.8" fill="#000"/><text x="661.8" y="151.5">4:09 am</text><text x="661.8" y="159.9">11.7 ft</text><text x="661.8" y="169.6">3.58 m</text><circle cx="680.9" cy="361.2" r="1.8" fill="#000"/><text x="680.9" y="371.6">0.91 m</text><text x="680.9" y="381.5">3.0 ft</text><text x="680.9" y="390.2">10:08 am</text><circle cx="701.1" cy="146.8" r="1.8" fill="#000"/><text x="701.1" y="125.6">4:27 pm</text><text x="701.1" y="133.2">13.0 ft</text><text x="701.1" y="142.9">3.96 m</text></g>
<path d="M393.1,282.1 L402.1,282.1 L397.6,289.6 Z" fill="#f5e632" stroke="#8c8c28" stroke-width="0.8"/>
<text x="46" y="479.7" font-size="11" text-anchor="end">Sunrise</text>
<text x="746.3" y="479.7" font-size="11">Sunrise</text>
<text x="46" y="493.4" font-size="11" text-anchor="end">Sunset</text>
<text x="746.3" y="493.4" font-size="11">Sunset</text>
<text x="46" y="507.0" font-size="11" text-anchor="end">Moonrise</text>
<text x="746.3" y="507.0" font-size="11">Moonrise</text>
<text x="46" y="520.5" font-size="11" text-anchor="end">Moonset</text>
<text x="746.3" y="520.5" font-size="11">Moonset</text>
<g font-size="9.5" fill="#000" stroke="#000" stroke-width="0.15"><polygon points="138.12,468.90 139.77,473.63 144.78,473.74 140.79,476.77 142.24,481.56 138.12,478.70 134.01,481.56 135.46,476.77 131.47,473.74 136.48,473.63" fill="#a8781e" stroke="#4a3c10" stroke-width="0.7"/><circle cx="138.3" cy="475.9" r="4.2" fill="#d2d246" stroke="#4a3c10" stroke-width="0.7"/><text x="144.6" y="479.2">8:03am</text><polygon points="214.85,468.90 216.50,473.63 221.51,473.74 217.51,476.77 218.97,481.56 214.85,478.70 210.74,481.56 212.19,476.77 208.19,473.74 213.21,473.63" fill="#a8781e" stroke="#4a3c10" stroke-width="0.7"/><circle cx="215.1" cy="475.9" r="4.2" fill="#d2d246" stroke="#4a3c10" stroke-width="0.7"/><text x="221.4" y="479.2">8:05am</text><polygon points="291.53,468.90 293.17,473.63 298.18,473.74 294.19,476.77 295.64,481.56 291.53,478.70 287.41,481.56 288.86,476.77 284.87,473.74 289.88,473.63" fill="#a8781e" stroke="#4a3c10" stroke-width="0.7"/><circle cx="291.7" cy="475.9" r="4.2" fill="#d2d246" stroke="#4a3c10" stroke-width="0.7"/><text x="298.0" y="479.2">8:06am</text><polygon points="368.20,468.90 369.85,473.63 374.86,473.74 370.87,476.77 372.32,481.56 368.20,478.70 364.09,481.56 365.54,476.77 361.55,473.74 366.56,473.63" fill="#a8781e" stroke="#4a3c10" stroke-width="0.7"/><circle cx="368.4" cy="475.9" r="4.2" fill="#d2d246" stroke="#4a3c10" stroke-width="0.7"/><text x="374.7" y="479.2">8:07am</text><polygon points="444.88,468.90 446.52,473.63 451.54,473.74 447.54,476.77 448.99,481.56 444.88,478.70 440.76,481.56 442.22,476.77 438.22,473.74 443.23,473.63" fill="#a8781e" stroke="#4a3c10" stroke-width="0.7"/><circle cx="445.1" cy="475.9" r="4.2" fill="#d2d246" stroke="#4a3c10" stroke-width="0.7"/><text x="451.4" y="479.2">8:08am</text><polygon points="521.55,468.90 523.20,473.63 528.21,473.74 524.22,476.77 525.67,481.56 521.55,478.70 517.44,481.56 518.89,476.77 514.90,473.74 519.91,473.63" fill="#a8781e" stroke="#4a3c10" stroke-width="0.7"/><circle cx="521.8" cy="475.9" r="4.2" fill="#d2d246" stroke="#4a3c10" stroke-width="0.7"/><text x="528.1" y="479.2">8:09am</text><polygon points="598.23,468.90 599.88,473.63 604.89,473.74 600.89,476.77 602.34,481.56 598.23,478.70 594.12,481.56 595.57,476.77 591.57,473.74 596.58,473.63" fill="#a8781e" stroke="#4a3c10" stroke-width="0.7"/><circle cx="598.4" cy="475.9" r="4.2" fill="#d2d246" stroke="#4a3c10" stroke-width="0.7"/><text x="604.7" y="479.2">8:10am</text><polygon points="674.91,468.90 676.55,473.63 681.56,473.74 677.57,476.77 679.02,481.56 674.91,478.70 670.79,481.56 672.24,476.77 668.25,473.74 673.26,473.63" fill="#a8781e" stroke="#4a3c10" stroke-width="0.7"/><circle cx="675.1" cy="475.9" r="4.2" fill="#d2d246" stroke="#4a3c10" stroke-width="0.7"/><text x="681.4" y="479.2">8:11am</text><polygon points="176.81,482.60 178.45,487.33 183.46,487.44 179.47,490.47 180.92,495.26 176.81,492.40 172.69,495.26 174.14,490.47 170.15,487.44 175.16,487.33" fill="#a8781e" stroke="#4a3c10" stroke-width="0.7"/><circle cx="177.0" cy="489.6" r="4.2" fill="#e0552b" stroke="#4a3c10" stroke-width="0.7"/><text x="183.3" y="493.2">8:10pm</text><polygon points="253.32,482.60 254.97,487.33 259.98,487.44 255.99,490.47 257.44,495.26 253.32,492.40 249.21,495.26 250.66,490.47 246.67,487.44 251.68,487.33" fill="#a8781e" stroke="#4a3c10" stroke-width="0.7"/><circle cx="253.5" cy="489.6" r="4.2" fill="#e0552b" stroke="#4a3c10" stroke-width="0.7"/><text x="259.8" y="493.2">8:08pm</text><polygon points="329.84,482.60 331.48,487.33 336.50,487.44 332.50,490.47 333.95,495.26 329.84,492.40 325.72,495.26 327.18,490.47 323.18,487.44 328.19,487.33" fill="#a8781e" stroke="#4a3c10" stroke-width="0.7"/><circle cx="330.0" cy="489.6" r="4.2" fill="#e0552b" stroke="#4a3c10" stroke-width="0.7"/><text x="336.3" y="493.2">8:06pm</text><polygon points="406.35,482.60 408.00,487.33 413.01,487.44 409.02,490.47 410.47,495.26 406.35,492.40 402.24,495.26 403.69,490.47 399.70,487.44 404.71,487.33" fill="#a8781e" stroke="#4a3c10" stroke-width="0.7"/><circle cx="406.6" cy="489.6" r="4.2" fill="#e0552b" stroke="#4a3c10" stroke-width="0.7"/><text x="412.9" y="493.2">8:04pm</text><polygon points="482.87,482.60 484.52,487.33 489.53,487.44 485.53,490.47 486.98,495.26 482.87,492.40 478.76,495.26 480.21,490.47 476.21,487.44 481.22,487.33" fill="#a8781e" stroke="#4a3c10" stroke-width="0.7"/><circle cx="483.1" cy="489.6" r="4.2" fill="#e0552b" stroke="#4a3c10" stroke-width="0.7"/><text x="489.4" y="493.2">8:02pm</text><polygon points="559.39,482.60 561.03,487.33 566.04,487.44 562.05,490.47 563.50,495.26 559.39,492.40 555.27,495.26 556.72,490.47 552.73,487.44 557.74,487.33" fill="#a8781e" stroke="#4a3c10" stroke-width="0.7"/><circle cx="559.6" cy="489.6" r="4.2" fill="#e0552b" stroke="#4a3c10" stroke-width="0.7"/><text x="565.9" y="493.2">8:00pm</text><polygon points="635.96,482.60 637.60,487.33 642.61,487.44 638.62,490.47 640.07,495.26 635.96,492.40 631.84,495.26 633.29,490.47 629.30,487.44 634.31,487.33" fill="#a8781e" stroke="#4a3c10" stroke-width="0.7"/><circle cx="636.2" cy="489.6" r="4.2" fill="#e0552b" stroke="#4a3c10" stroke-width="0.7"/><text x="642.5" y="493.2">7:59pm</text><circle cx="107.8" cy="503.2" r="5.2" fill="#ffffc8" stroke="#808080" stroke-width="0.9"/><text x="114.4" y="507.4">10:31pm</text><circle cx="186.8" cy="503.2" r="5.2" fill="#ffffc8" stroke="#808080" stroke-width="0.9"/><text x="193.4" y="507.4">11:16pm</text><circle cx="266.4" cy="503.2" r="5.2" fill="#ffffc8" stroke="#808080" stroke-width="0.9"/><text x="273.0" y="507.4">12:12am</text><circle cx="346.4" cy="503.2" r="5.2" fill="#ffffc8" stroke="#808080" stroke-width="0.9"/><text x="353.0" y="507.4">1:16am</text><circle cx="426.6" cy="503.2" r="5.2" fill="#ffffc8" stroke="#808080" stroke-width="0.9"/><text x="433.2" y="507.4">2:23am</text><circle cx="506.9" cy="503.2" r="5.2" fill="#ffffc8" stroke="#808080" stroke-width="0.9"/><text x="513.5" y="507.4">3:32am</text><circle cx="587.1" cy="503.2" r="5.2" fill="#ffffc8" stroke="#808080" stroke-width="0.9"/><text x="593.7" y="507.4">4:39am</text><circle cx="667.1" cy="503.2" r="5.2" fill="#ffffc8" stroke="#808080" stroke-width="0.9"/><text x="673.7" y="507.4">5:43am</text><circle cx="160.1" cy="516.6" r="5.2" fill="#c0c0aa" stroke="#707070" stroke-width="0.9"/><text x="166.7" y="520.3">2:55pm</text><circle cx="240.3" cy="516.6" r="5.2" fill="#c0c0aa" stroke="#707070" stroke-width="0.9"/><text x="246.9" y="520.3">4:01pm</text><circle cx="319.8" cy="516.6" r="5.2" fill="#c0c0aa" stroke="#707070" stroke-width="0.9"/><text x="326.4" y="520.3">4:55pm</text><circle cx="398.6" cy="516.6" r="5.2" fill="#c0c0aa" stroke="#707070" stroke-width="0.9"/><text x="405.2" y="520.3">5:36pm</text><circle cx="477.0" cy="516.6" r="5.2" fill="#c0c0aa" stroke="#707070" stroke-width="0.9"/><text x="483.6" y="520.3">6:09pm</text><circle cx="554.9" cy="516.6" r="5.2" fill="#c0c0aa" stroke="#707070" stroke-width="0.9"/><text x="561.5" y="520.3">6:34pm</text><circle cx="632.7" cy="516.6" r="5.2" fill="#c0c0aa" stroke="#707070" stroke-width="0.9"/><text x="639.3" y="520.3">6:55pm</text></g>
<text x="245.1" y="533.8" font-size="9.37" fill="#111" text-anchor="middle">Last Quarter | 8:52pm</text>
</svg>
</body></html>
